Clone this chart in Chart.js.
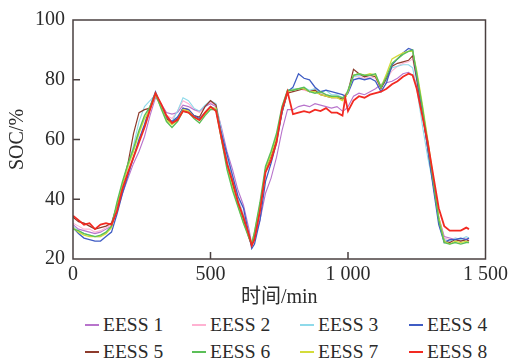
<!DOCTYPE html>
<html>
<head>
<meta charset="utf-8">
<script src="https://cdn.jsdelivr.net/npm/chart.js@4.4.1/dist/chart.umd.min.js"></script>
<style>
  body { margin: 0; background: #fff; }
  #wrap { position: relative; width: 512px; height: 363px; }
  #legenda { position: absolute; left: 85px; top: 311px; display: grid;
    grid-template-columns: 107px 108px 109px 100px; line-height: 27px;
    font-family: "Liberation Serif", "Times New Roman", Times, serif; font-size: 19.5px; color: #2b2b2b; }
  #legenda span.item { white-space: nowrap; }
  #legenda i { display: inline-block; width: 14px; height: 2px; margin-right: 4px; vertical-align: middle; position: relative; top: -2px; }
</style>
</head>
<body>
<div id="wrap">
  <canvas id="grafico" width="512" height="310"></canvas>
  <div id="legenda"></div>
</div>
<script>
// tempo (min)
const tempo = [0,20,40,60,80,100,120,140,160,180,200,220,240,260,280,300,320,340,360,380,400,420,440,460,480,500,520,540,560,580,600,620,640,650,660,
  680,700,720,740,760,780,800,820,840,860,880,900,920,940,960,980,990,1000,
  1020,1040,1060,1080,1100,1120,1140,1160,1180,1200,1220,1235,1250,
  1270,1290,1310,1330,1350,1370,1390,1410,1430,1440];

// SOC de cada EESS (%)
const eess1 = [31.5,30,29.5,29,28.5,29,30,31,36,42,47,52,56,61,68,74,72,69,68.5,69,71.5,71,70,69.5,71,72,71,64,56,50,43,38,30,25,27,
  33,42,47,54,63,70,70,71,71.5,71,72,71.5,71,70.5,71,69.5,70,71,
  74.5,75.5,75,76,77,78.5,79,79.5,80.5,82,82.5,81.5,78,
  69,58,46,34,27.5,27,26.5,26,26.5,26];
const eess2 = [32,31,30,30,29,29.5,30.5,31.5,37,43,49,54,60,64,70,75,71.5,68,67,69.5,73,72,70,69,71,72.5,71.5,62,53,46,40,35,28,25,28,
  36,49,54,60,70,76,76.5,77,76.5,76,77,75.5,75,74.5,74.5,73.5,74,76,
  81,81,80.5,81,80.5,77.5,80,83,84.5,85.5,86,87,80,
  69,57,45,34,27,26.5,27,26.5,27,26.5];
const eess3 = [31,29.5,28.5,28,27.5,27.5,29,31,38,45,51,58,66,71,73,75,71,67,66,69.5,74,73,70.5,69.5,71.5,73,72,63,54,47,40,34.5,27.5,24.5,28,
  37,50,55,61,71,76.5,77,77,77.5,76.5,77,75.5,76.5,75,75,74,74.5,76,
  81,81.5,81,81.5,81,77.5,80,84,84.5,85,85,84,77,
  65,54,45,33,26.5,26,27,26.5,27.5,27];
const eess4 = [30.5,28.5,27,26.5,26,26,27.5,29,35,42,48,54,60,65,71,76,71.5,67.5,66,67.5,70.5,70,68,67,69,71,70,62,55,48,41,37,28,23.5,25,
  33,46,52,59,69,76,77.5,82,80.5,80,77.5,76,76.5,76,75.5,75,74.5,75.5,
  80,80.5,80,80.5,79.5,76,79,85,87,89,90.5,90,81,
  70,57,44,31.5,25.5,26.5,26.5,27,26.5,27];
const eess5 = [34,32.5,32,31,30,30.5,31,32,38,45,52,62,69,70,70.5,75,71,67,65.5,67,70.5,70,68,67.5,71,73,71.5,61,52,45,39,33,27,24.5,28,
  37,50,54.5,60,69,75.5,76,76.5,77,76,76.5,75,74.5,74,74,73.5,74,76,
  83.5,82,81,81.5,81,77,80.5,84.5,85.5,86,86.5,88,80,
  69,57,45,33,26,25.5,26.5,26,26.5,26];
const eess6 = [30,29.5,28.5,28,27.5,28,29,31,39,46,52,57,63,68,71,75.5,70.5,66,64,66,69.5,69,67,65.5,68,70,70,60,50,43,37.5,32,27,25,29,
  39,51,56,62,71,76.5,76.5,77,77.5,76,75.5,76,75,74.5,74.5,74,74.5,76.5,
  81.5,82,81.5,81.5,82,77.5,81,85.5,87,88.5,89.5,90,82,
  71,59,46,33,25.5,25,25.5,25,25.5,25.5];
const eess7 = [30.5,29,28,27.5,27.5,27.5,28.5,30.5,38.5,45,51,56,62,67,70,75,71,66.5,65,66.5,70,69.5,67.5,66.5,68.5,70.5,70.5,60,51,44,38,32,27.5,25.5,29,
  38,50,55,61,70,76,76.5,77,77,76,76,75,74.5,74,74,73,74,76,
  81.5,82,81.5,82,81.5,77.5,82,87,88,89,89.5,89.5,83,
  72,60,47,34,26,25,26,25.5,26,25.5];
const eess8 = [34.5,33,31.5,32,30,31.5,32,31.5,36,43.5,49,54,59,64,70,75.5,72,68,65.5,66.5,69.5,69,67.5,66.5,69,71,69.5,60.5,52,46,39,34,28,24.5,26.5,
  36,49,53,59,70,76,68.5,69,69.5,69,70,69.5,70.5,69,69,68,74,69.5,
  73,74.5,74,75,75.5,76,77,78.5,79.5,81,82,81.5,77,
  68,59,48,37,31,29.5,29.5,29.5,30.5,30];

const nomes = ['EESS 1','EESS 2','EESS 3','EESS 4','EESS 5','EESS 6','EESS 7','EESS 8'];
const series = [eess1, eess2, eess3, eess4, eess5, eess6, eess7, eess8];
const cores = ['#b874cc','#ffb2d2','#8fdaea','#3f5cc4','#8e3b2c','#5bbf58','#d4dc3a','#f22a22'];
const larguras = [1.1,1.1,1.1,1.3,1.2,1.4,1.3,1.8];
const ordens = [6,7,5,3,4,1,2,0];

const xTicks = [0, 500, 1000, 1500];
const xTickLabels = ['0', '500', '1 000', '1 500'];
const yTicks = [20, 40, 60, 80, 100];

const serif = '"Liberation Serif", "Times New Roman", "Noto Sans CJK SC", serif';
const corEixo = '#4a4040';

// moldura e marcas de escala voltadas para dentro
const moldura = {
  id: 'moldura',
  afterDatasetsDraw(chart) {
    const {ctx, chartArea: a, scales} = chart;
    ctx.save();
    ctx.strokeStyle = corEixo;
    ctx.lineWidth = 1.5;
    ctx.strokeRect(a.left, a.top, a.right - a.left, a.bottom - a.top);
    ctx.beginPath();
    [500, 1000].forEach(v => {
      const px = scales.x.getPixelForValue(v);
      ctx.moveTo(px, a.bottom); ctx.lineTo(px, a.bottom - 7);
    });
    [40, 60, 80].forEach(v => {
      const py = scales.y.getPixelForValue(v);
      ctx.moveTo(a.left, py); ctx.lineTo(a.left + 7, py);
    });
    ctx.stroke();
    ctx.restore();
  }
};

const contexto = document.getElementById('grafico').getContext('2d');
new Chart(contexto, {
  type: 'line',
  data: {
    datasets: series.map((s, k) => ({
      label: nomes[k],
      data: tempo.map((t, i) => ({ x: t, y: s[i] })),
      borderColor: cores[k],
      backgroundColor: cores[k],
      borderWidth: larguras[k],
      pointRadius: 0,
      tension: 0,
      order: ordens[k]
    }))
  },
  options: {
    responsive: false,
    animation: false,
    devicePixelRatio: 1,
    layout: { padding: { left: 0, top: 19, right: 22, bottom: 0 } },
    plugins: { legend: { display: false }, tooltip: { enabled: false } },
    scales: {
      x: {
        type: 'linear', min: 0, max: 1500,
        afterBuildTicks: s => { s.ticks = xTicks.map(v => ({ value: v })); },
        afterFit: s => { s.height = 51; },
        grid: { display: false, drawTicks: false },
        border: { display: false },
        ticks: {
          padding: 4, color: '#2b2b2b', maxRotation: 0,
          font: { family: serif, size: 20 },
          callback: v => xTickLabels[xTicks.indexOf(v)]
        },
        title: { display: true, text: '时间/min', color: '#2b2b2b', padding: 0,
          font: { family: serif, size: 20 } }
      },
      y: {
        min: 20, max: 100,
        afterBuildTicks: s => { s.ticks = yTicks.map(v => ({ value: v })); },
        afterFit: s => { s.width = 73; },
        grid: { display: false, drawTicks: false },
        border: { display: false },
        ticks: { padding: 8, color: '#2b2b2b', font: { family: serif, size: 20 } },
        title: { display: true, text: 'SOC/%', color: '#2b2b2b', padding: 6,
          font: { family: serif, size: 20 } }
      }
    }
  },
  plugins: [moldura]
});

// legenda
const legenda = document.getElementById('legenda');
nomes.forEach((n, k) => {
  const el = document.createElement('span');
  el.className = 'item';
  el.innerHTML = '<i style="background:' + cores[k] + '"></i>' + n;
  legenda.appendChild(el);
});
</script>
</body>
</html>
